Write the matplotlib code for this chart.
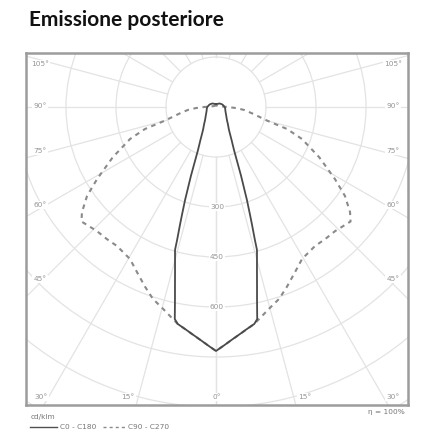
import numpy as np
import matplotlib
matplotlib.use("Agg")
import matplotlib.pyplot as plt
from matplotlib.patches import Circle
from matplotlib.lines import Line2D

# ---- data (cd/klm vs angle from nadir, symmetric curves) ----
solid_angles = [0, 2, 4, 6, 8, 10, 11, 12, 13, 14, 15, 16, 16.3, 17, 17.5, 18.4, 20, 22.7, 25, 29.5,
                35, 40, 50, 66, 80, 90, 105, 117, 135, 150, 165, 180]
solid_cd = [732, 715, 699, 685, 672, 661, 648, 592, 547, 508, 475, 446, 416, 370, 340, 294, 220, 140, 112, 79,
            62, 51, 40, 31, 28, 26, 22, 19, 15, 11, 9, 9]

dashed_angles = [0, 5, 10, 11.5, 14.7, 18.2, 21.5, 25.6, 29.5, 35.5, 39.5, 43.8, 49.6, 51.9, 55.4, 58.8,
                 64, 69.6, 72.8, 75, 80, 84, 87, 90, 100, 120, 150, 180]
dashed_cd = [732, 692, 661, 649, 626, 606, 580, 549, 524, 512, 514, 516, 530, 511, 470, 417,
             345, 275, 223, 160, 110, 85, 60, 35, 12, 6, 5, 5]

circle_values = [150, 300, 450, 600, 750, 900, 1050]
circle_labels = ["300", "450", "600"]
legend_labels = ["C0 - C180", "C90 - C270"]
title = "Emissione posteriore"
unit_label = "cd/klm"
eta_label = "η = 100%"

W, H = 423, 434
fig = plt.figure(figsize=(W / 100, H / 100), dpi=100)
fig.patch.set_facecolor("white")

def fx(px):
    return px / W

def fy(py):
    return 1 - py / H

L, R, T, B = 26, 408, 53, 405
ax = fig.add_axes([fx(L), fy(B), (R - L) / W, (B - T) / H])
cx, cy = 216, 107
s = 3.0  # cd per pixel
ax.set_xlim((L - cx) * s, (R - cx) * s)
ax.set_ylim(-(B - cy) * s, (cy - T) * s)
ax.set_xticks([])
ax.set_yticks([])
for sp in ax.spines.values():
    sp.set_color("#9c9c9c")
    sp.set_linewidth(1.8)

grid_c = "#e3e3e3"
for r in circle_values:
    ax.add_patch(Circle((0, 0), r, fill=False, ec=grid_c, lw=0.9, zorder=1))
for a in range(0, 181, 15):
    for sgn in (-1, 1):
        t = np.radians(a) * sgn
        ax.plot([150 * np.sin(t), 1500 * np.sin(t)], [-150 * np.cos(t), -1500 * np.cos(t)],
                color=grid_c, lw=0.9, zorder=1)

def closed(angles, vals):
    a = np.radians(np.asarray(angles, float))
    v = np.asarray(vals, float)
    phi = np.concatenate([-a[::-1], a[1:]])
    I = np.concatenate([v[::-1], v[1:]])
    return I * np.sin(phi), -I * np.cos(phi)

xd, yd = closed(dashed_angles, dashed_cd)
ax.plot(xd, yd, color="#8a8a8a", lw=1.5, ls=(0, (2.2, 2.2)), zorder=3)
xs, ys = closed(solid_angles, solid_cd)
ax.plot(xs, ys, color="#4a4a4a", lw=1.3, zorder=4)

lab_kw = dict(fontsize=5.3, color="#959595", ha="center", va="center", zorder=5,
              bbox=dict(boxstyle="square,pad=0.15", fc="white", ec="none"))

def pt(px, py):
    return (px - cx) * s, (cy - py) * s

for txt, y in zip(["105°", "90°", "75°", "60°", "45°"], [64, 106, 151, 205, 279]):
    ax.text(*pt(40, y), txt, **lab_kw)
    ax.text(*pt(393, y), txt, **lab_kw)
for txt, x in zip(["30°", "15°", "0°", "15°", "30°"], [41, 128, 217, 305, 393]):
    ax.text(*pt(x, 397), txt, **lab_kw)
for txt, y in zip(circle_labels, [207, 257, 307]):
    ax.text(*pt(217, y), txt, **lab_kw)

fig.text(fx(29), fy(20), title, fontsize=15, fontweight="bold", family="Lato",
         ha="left", va="center", color="#111111")

fig.text(fx(31), fy(417), unit_label, fontsize=5.3, color="#777777", ha="left", va="center")
fig.add_artist(Line2D([fx(30), fx(57)], [fy(427), fy(427)], color="#505050", lw=1.0))
fig.text(fx(60), fy(427), legend_labels[0], fontsize=5.3, color="#777777", ha="left", va="center")
fig.add_artist(Line2D([fx(103), fx(125)], [fy(427), fy(427)], color="#8a8a8a", lw=1.0,
                      ls=(0, (2.2, 2.2))))
fig.text(fx(128), fy(427), legend_labels[1], fontsize=5.3, color="#777777", ha="left", va="center")
fig.text(fx(405), fy(412), eta_label, fontsize=5.3, color="#777777", ha="right", va="center")

fig.savefig("out.png", dpi=100, facecolor="white")
